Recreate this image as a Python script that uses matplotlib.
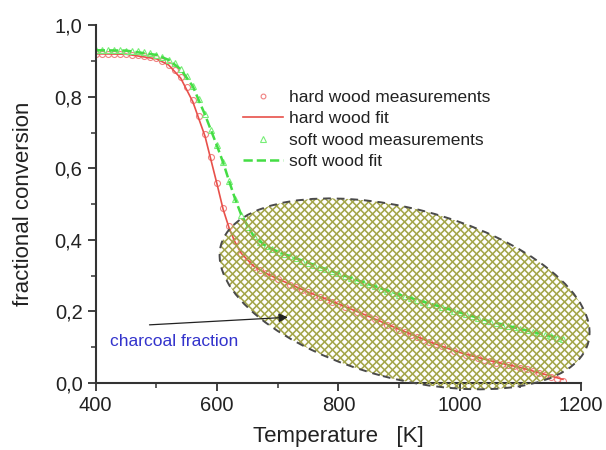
import matplotlib
matplotlib.use("Agg")
import matplotlib.pyplot as plt
from matplotlib.patches import Ellipse
from matplotlib.collections import LineCollection
from matplotlib import transforms
from matplotlib.ticker import FuncFormatter, MultipleLocator
import numpy as np

plt.rcParams['font.family'] = ['Liberation Sans', 'DejaVu Sans']

# temperature grid of measurements [K]
temp = np.arange(400, 1180, 10)

hard_meas = [0.920, 0.920, 0.920, 0.920, 0.920, 0.919, 0.918, 0.917, 0.915, 0.912,
             0.907, 0.900, 0.890, 0.875, 0.855, 0.828, 0.790, 0.745, 0.695, 0.632,
             0.560, 0.490, 0.440, 0.398, 0.360, 0.340, 0.325, 0.315, 0.306, 0.298,
             0.290, 0.283, 0.275, 0.268, 0.260, 0.253, 0.246, 0.240, 0.233, 0.227,
             0.220, 0.213, 0.206, 0.199, 0.192, 0.185, 0.178, 0.170, 0.163, 0.156,
             0.149, 0.142, 0.135, 0.128, 0.121, 0.114, 0.108, 0.102, 0.096, 0.090,
             0.084, 0.079, 0.074, 0.069, 0.065, 0.061, 0.057, 0.053, 0.049, 0.046,
             0.042, 0.038, 0.033, 0.028, 0.022, 0.017, 0.012, 0.006]

soft_meas = [0.930, 0.930, 0.930, 0.930, 0.930, 0.929, 0.928, 0.927, 0.925, 0.922,
             0.918, 0.912, 0.904, 0.893, 0.878, 0.858, 0.830, 0.795, 0.752, 0.708,
             0.665, 0.618, 0.565, 0.515, 0.470, 0.437, 0.412, 0.395, 0.383, 0.374,
             0.367, 0.360, 0.354, 0.348, 0.342, 0.336, 0.330, 0.324, 0.318, 0.312,
             0.306, 0.300, 0.294, 0.288, 0.282, 0.276, 0.270, 0.264, 0.258, 0.252,
             0.247, 0.242, 0.237, 0.232, 0.227, 0.222, 0.217, 0.212, 0.207, 0.202,
             0.197, 0.192, 0.187, 0.182, 0.177, 0.172, 0.167, 0.163, 0.159, 0.155,
             0.151, 0.147, 0.143, 0.139, 0.135, 0.131, 0.127, 0.123]

# fitted curves (coarser)
fit_temp = [400, 450, 500, 520, 540, 560, 580, 600, 610, 620, 630, 640, 660, 680,
            700, 750, 800, 850, 900, 950, 1000, 1050, 1100, 1140, 1170]
hard_fit = [0.920, 0.919, 0.906, 0.889, 0.852, 0.786, 0.690, 0.555, 0.485, 0.432,
            0.392, 0.362, 0.327, 0.307, 0.291, 0.254, 0.221, 0.186, 0.150, 0.115,
            0.085, 0.062, 0.043, 0.024, 0.010]
soft_fit = [0.930, 0.929, 0.917, 0.903, 0.877, 0.829, 0.750, 0.662, 0.616, 0.563,
            0.513, 0.469, 0.411, 0.383, 0.367, 0.336, 0.306, 0.276, 0.247, 0.222,
            0.197, 0.172, 0.151, 0.135, 0.123]

fig = plt.figure(figsize=(6.06, 4.5), dpi=100)
ax = fig.add_axes([0.158, 0.149, 0.801, 0.795])

red = '#e8504a'
green = '#44dd44'
ax.plot(temp, hard_meas, 'o', ms=4.3, mfc='none', mec='#f08080', mew=0.8,
        label='hard wood measurements')
ax.plot(fit_temp, hard_fit, '-', color=red, lw=1.2, label='hard wood fit')
ax.plot(temp, soft_meas, '^', ms=4.8, mfc='none', mec='#77ee77', mew=0.8,
        label='soft wood measurements')
ax.plot(fit_temp, soft_fit, '--', color=green, lw=1.8, label='soft wood fit')

ax.set_xlim(400, 1200)
ax.set_ylim(0, 1.0)
ax.xaxis.set_major_locator(MultipleLocator(200))
ax.xaxis.set_minor_locator(MultipleLocator(100))
ax.yaxis.set_major_locator(MultipleLocator(0.2))
ax.yaxis.set_minor_locator(MultipleLocator(0.1))
ax.yaxis.set_major_formatter(FuncFormatter(lambda v, p: f"{v:.1f}".replace('.', ',')))
for s in ['top', 'right']:
    ax.spines[s].set_visible(False)
for s in ['left', 'bottom']:
    ax.spines[s].set_linewidth(1.5)
    ax.spines[s].set_color('#333333')
ax.tick_params(which='major', direction='out', length=6, width=1.3,
               labelsize=14.5, colors='#333333', labelcolor='#222222')
ax.tick_params(which='minor', direction='out', length=3.5, width=1.1, colors='#333333')
ax.set_xlabel('Temperature   [K]', fontsize=16, color='#222222', labelpad=8)
ax.set_ylabel('fractional conversion', fontsize=16, color='#222222', labelpad=15)

# charcoal region (sized in inches, centred on a data point)
offset = transforms.ScaledTranslation(909, 0.249, ax.transData)
ell_tr = fig.dpi_scale_trans + offset
ell = Ellipse((0, 0), 3.80, 1.70, angle=-14.8, transform=ell_tr,
              facecolor='none', edgecolor='none', zorder=3, clip_on=False)
ax.add_patch(ell)

# cross hatching, 0.08 in pitch, clipped to the ellipse only
step = 0.08
cs = np.arange(-4.0, 4.0, step)
segs = [[(c - 2.5, -2.5), (c + 2.5, 2.5)] for c in cs] + \
       [[(c - 2.5, 2.5), (c + 2.5, -2.5)] for c in cs]
hatch = LineCollection(segs, colors='#a4a64a', linewidths=1.15, transform=ell_tr,
                       zorder=3)
ax.add_collection(hatch, autolim=False)
hatch.set_clip_box(None)
hatch.set_clip_path(ell)

edge = Ellipse((0, 0), 3.80, 1.70, angle=-14.8, transform=ell_tr,
               facecolor='none', edgecolor='#4a4a4a', ls=(0, (4, 3)), lw=1.4,
               zorder=4, clip_on=False)
ax.add_patch(edge)

ax.annotate('', xy=(721, 0.184), xytext=(484, 0.162),
            arrowprops=dict(arrowstyle='-|>', color='#222222', lw=0.9,
                            mutation_scale=13), zorder=5)
ax.text(423, 0.117, 'charcoal fraction', color='#3333cc', fontsize=12.5,
        va='center', ha='left')

ax.legend(loc='upper left', bbox_to_anchor=(0.289, 0.838), borderaxespad=0,
          frameon=False, fontsize=12.5, handlelength=2.3, labelspacing=0.35,
          handletextpad=0.35, labelcolor='#222222', markerscale=0.8)

fig.savefig('out.png', dpi=100)
